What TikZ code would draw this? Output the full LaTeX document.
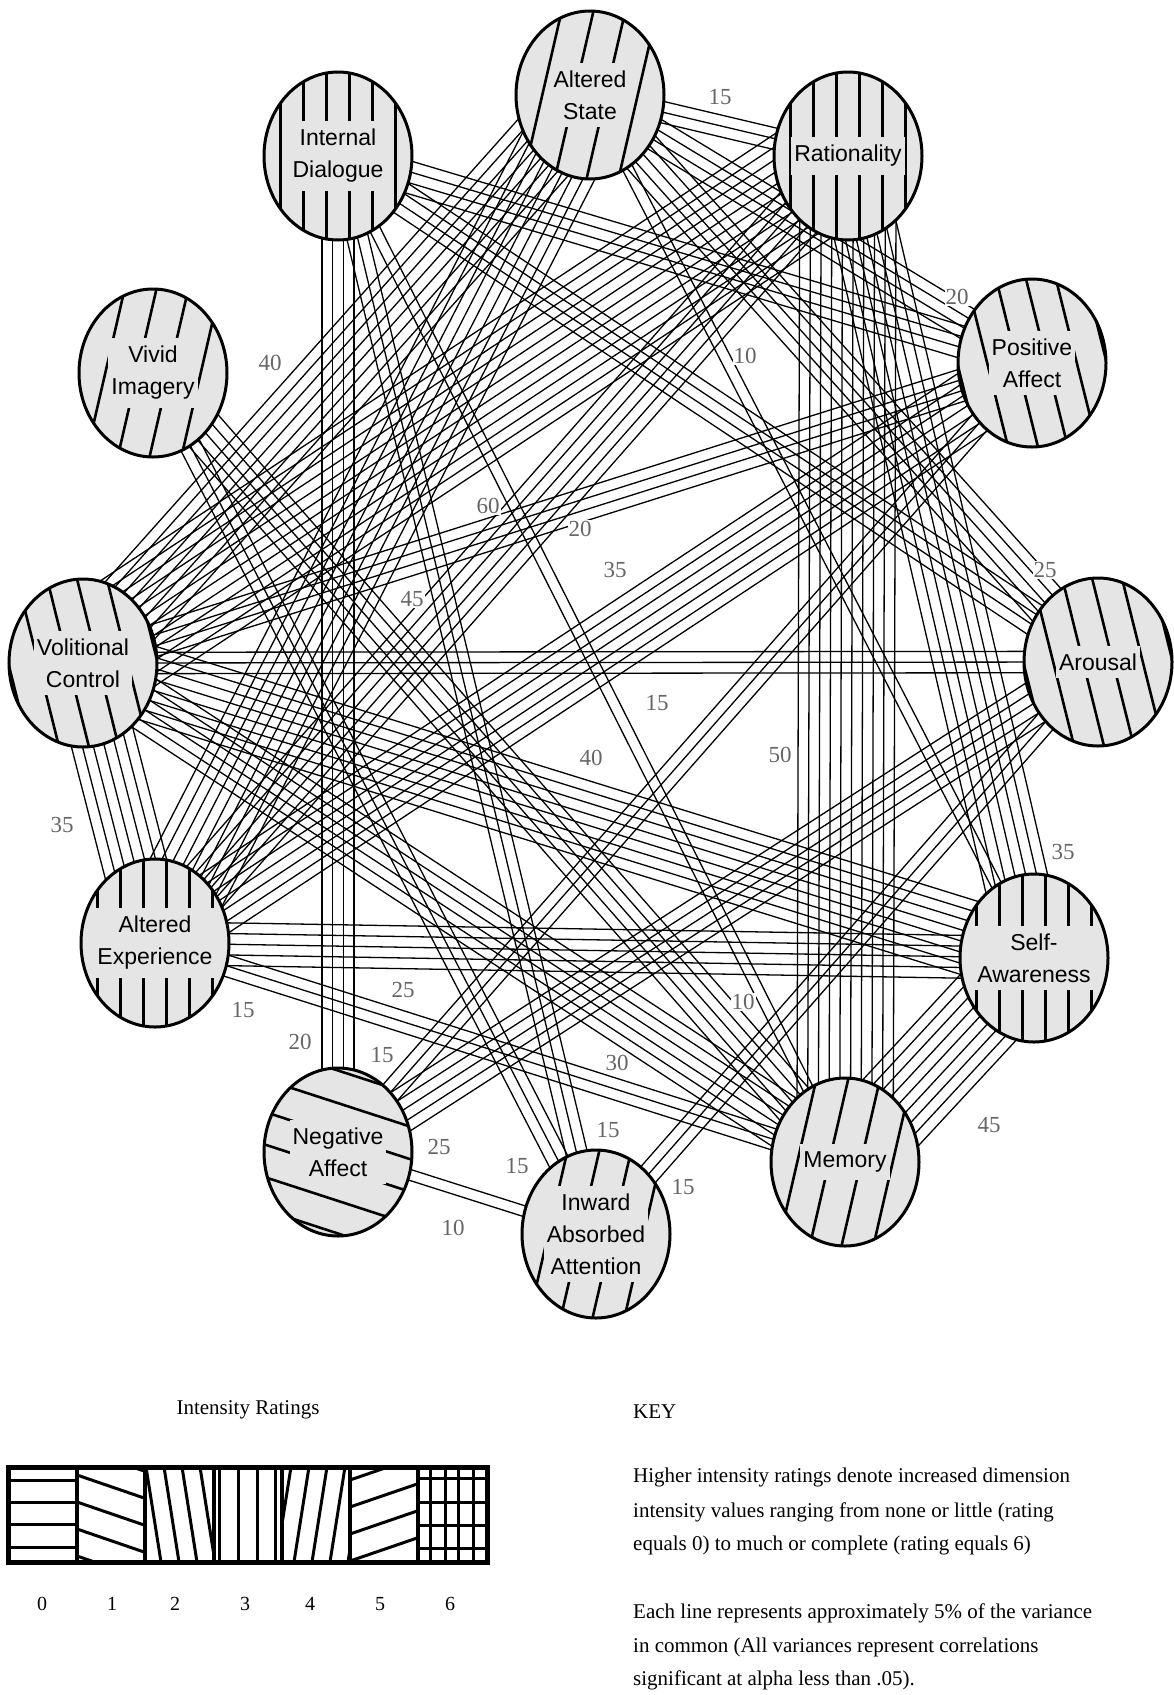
\documentclass[tikz,border=0pt]{standalone}
\usepackage{fontspec}
\setmainfont{Liberation Serif}
\newfontfamily\arialf{Liberation Sans}
\usetikzlibrary{shapes.geometric,calc,backgrounds}

\definecolor{nodebg}{gray}{0.90}
\definecolor{numgray}{gray}{0.40}

\tikzset{
  dimnode/.style={ellipse, fill=nodebg,
    minimum width=148pt, minimum height=168pt, inner sep=0pt},
  lbl/.style={fill=nodebg, font=\arialf\fontsize{23}{32}\selectfont, align=center,
    inner xsep=3pt, inner ysep=8pt},
  conn/.style={line width=1.3pt, black},
  num/.style={font=\fontsize{23}{23}\selectfont, text=numgray, fill=white, inner sep=1pt},
  hatch/.style={line width=2.6pt, black},
  outline/.style={line width=3pt, black},
  legline/.style={line width=3pt, black},
  keytext/.style={font=\fontsize{21}{21}\selectfont, anchor=base west, inner sep=0pt},
}

% parallel bundle of n lines between two named nodes
\newcommand\bundle[3]{%
  \foreach \i in {1,...,#3}{%
    \pgfmathsetmacro\off{(\i-(#3+1)/2)*10.7}%
    \draw[conn] ($(#1)!\off pt!90:(#2)$) -- ($(#2)!\off pt!-90:(#1)$);
  }%
}

% hatching inside a dimension node: name, angle, spacing
\newcommand\hatchnode[3]{%
  \begin{scope}
    \clip (#1) ellipse [x radius=74pt, y radius=84pt];
    \begin{scope}[shift={(#1)}, rotate=#2]
      \foreach \k in {-6,...,5}
        \draw[hatch] (-140pt,{(\k+0.5)*#3*1pt}) -- (140pt,{(\k+0.5)*#3*1pt});
    \end{scope}
  \end{scope}
  \draw[outline] (#1) ellipse [x radius=74pt, y radius=84pt];
}

\begin{document}
\begin{tikzpicture}[x=1pt,y=-1pt]
\useasboundingbox (0,0) rectangle (1174,1695);

% dimension nodes
\node[dimnode] (AS) at (590,95)   {};
\node[dimnode] (ID) at (338,156)  {};
\node[dimnode] (RA) at (848,156)  {};
\node[dimnode] (VI) at (153,373)  {};
\node[dimnode] (PA) at (1032,363) {};
\node[dimnode] (VC) at (83,663)   {};
\node[dimnode] (AR) at (1098,662) {};
\node[dimnode] (AE) at (155,943)  {};
\node[dimnode] (SA) at (1034,958) {};
\node[dimnode] (NA) at (338,1152) {};
\node[dimnode] (ME) at (845,1162) {};
\node[dimnode] (IA) at (596,1234) {};

\hatchnode{AS}{77}{31}
\hatchnode{ID}{90}{23}
\hatchnode{RA}{90}{23}
\hatchnode{VI}{77}{31}
\hatchnode{PA}{104}{29}
\hatchnode{VC}{104}{29}
\hatchnode{AR}{104}{29}
\hatchnode{AE}{90}{23}
\hatchnode{SA}{90}{23}
\hatchnode{NA}{-18}{31}
\hatchnode{ME}{77}{31}
\hatchnode{IA}{77}{31}

\node[lbl] (ASt) at (AS) {Altered\\State};
\node[lbl] (IDt) at (ID) {Internal\\Dialogue};
\node[lbl] (RAt) at (RA) {Rationality};
\node[lbl] (VIt) at (VI) {Vivid\\Imagery};
\node[lbl] (PAt) at (PA) {Positive\\Affect};
\node[lbl] (VCt) at (VC) {Volitional\\Control};
\node[lbl] (ARt) at (AR) {Arousal};
\node[lbl] (AEt) at (AE) {Altered\\Experience};
\node[lbl] (SAt) at (SA) {Self-\\Awareness};
\node[lbl] (NAt) at (NA) {Negative\\Affect};
\node[lbl] (MEt) at (ME) {Memory};
\node[lbl] (IAt) at (IA) {Inward\\Absorbed\\Attention};

% connectors
\begin{scope}[on background layer]
\fill[white] (0,0) rectangle (1174,1695);
\bundle{AS}{RA}{3}
\bundle{ID}{PA}{4}
\bundle{AS}{PA}{4}
\bundle{AS}{SA}{2}
\bundle{VC}{AS}{8}
\bundle{VC}{RA}{12}
\bundle{VC}{PA}{4}
\bundle{AE}{PA}{7}
\bundle{AE}{AS}{9}
\bundle{AE}{RA}{6}
\bundle{VC}{AR}{3}
\bundle{VC}{SA}{8}
\bundle{RA}{ME}{10}
\bundle{AS}{AR}{5}
\bundle{RA}{SA}{7}
\bundle{VC}{AE}{7}
\bundle{AE}{ME}{3}
\bundle{ID}{NA}{4}
\bundle{AE}{SA}{5}
\bundle{NA}{PA}{3}
\bundle{NA}{AR}{5}
\bundle{VI}{IA}{3}
\bundle{NA}{IA}{2}
\bundle{ID}{IA}{3}
\bundle{VC}{ME}{6}
\bundle{ID}{ME}{2}
\bundle{IA}{AR}{3}
\bundle{SA}{ME}{9}
\bundle{VI}{ME}{5}
\bundle{ID}{AR}{4}
\end{scope}

% connector labels
\node[num] (l1)  at (720,97)    {15};
\node[num] (l2)  at (957,297)   {20};
\node[num] (l3)  at (745,356)   {10};
\node[num] (l4)  at (270,363)   {40};
\node[num] (l5)  at (488,506)   {60};
\node[num] (l6)  at (580,529)   {20};
\node[num] (l7)  at (615,570)   {35};
\node[num] (l8)  at (412,599)   {45};
\node[num] (l9)  at (657,703)   {15};
\node[num] (l10) at (591,758)   {40};
\node[num] (l11) at (780,755)   {50};
\node[num] (l12) at (1045,570)  {25};
\node[num] (l13) at (1063,852)  {35};
\node[num] (l14) at (62,825)    {35};
\node[num] (l15) at (243,1010)  {15};
\node[num] (l16) at (300,1042)  {20};
\node[num] (l17) at (403,990)   {25};
\node[num] (l18) at (382,1055)  {15};
\node[num] (l19) at (439,1147)  {25};
\node[num] (l20) at (517,1166)  {15};
\node[num] (l21) at (453,1228)  {10};
\node[num] (l22) at (608,1130)  {15};
\node[num] (l23) at (617,1063)  {30};
\node[num] (l24) at (743,1002)  {10};
\node[num] (l25) at (683,1187)  {15};
\node[num] (l26) at (989,1125)  {45};

% legend: intensity ratings
\node[font=\fontsize{21}{21}\selectfont, inner sep=0pt] (irt) at (248,1410) {Intensity Ratings};
\begin{scope}
  \clip (8,1467) rectangle (77,1562);
  \foreach \y in {1480,1502,1524,1547} \draw[legline] (8,\y) -- (77,\y);
\end{scope}
\begin{scope}
  \clip (77,1467) rectangle (145,1562);
  \foreach \c in {-3,...,4} \draw[legline] (77,1448+\c*27) -- ++(70,24);
\end{scope}
\begin{scope}
  \clip (145,1467) rectangle (214,1562);
  \foreach \c in {-1,...,4} \draw[legline] (146+\c*18,1467) -- ++(15,95);
\end{scope}
\begin{scope}
  \clip (214,1467) rectangle (282,1562);
  \foreach \x in {219,238,257,275} \draw[legline] (\x,1467) -- (\x,1562);
\end{scope}
\begin{scope}
  \clip (282,1467) rectangle (350,1562);
  \foreach \c in {-1,...,4} \draw[legline] (276+\c*18,1562) -- ++(15,-95);
\end{scope}
\begin{scope}
  \clip (350,1467) rectangle (418,1562);
  \foreach \c in {-2,...,5} \draw[legline] (350,1480+\c*27) -- ++(70,-24);
\end{scope}
\begin{scope}
  \clip (418,1467) rectangle (487,1562);
  \foreach \x in {430,445,458,473} \draw[legline] (\x,1467) -- (\x,1562);
  \foreach \y in {1478,1502,1525,1548} \draw[legline] (418,\y) -- (487,\y);
\end{scope}
\foreach \x in {77,145,214,282,350,418} \draw[line width=3.5pt] (\x,1467) -- (\x,1562);
\draw[line width=5pt] (8,1467) rectangle (487,1562);

\foreach \v/\x in {0/42,1/112,2/175,3/245,4/310,5/380,6/450}
  \node[font=\fontsize{20}{20}\selectfont, inner sep=0pt] (r\v) at (\x,1604) {\v};

% key
\node[keytext] (k0) at (633,1418) {KEY};
\node[keytext] (k1) at (633,1482) {Higher intensity ratings denote increased dimension};
\node[keytext] (k2) at (633,1517) {intensity values ranging from none or little (rating};
\node[keytext] (k3) at (633,1550) {equals 0) to much or complete (rating equals 6)};
\node[keytext] (k4) at (633,1618) {Each line represents approximately 5\% of the variance};
\node[keytext] (k5) at (633,1652) {in common (All variances represent correlations};
\node[keytext] (k6) at (633,1685) {significant at alpha less than .05).};
\end{tikzpicture}
\end{document}
